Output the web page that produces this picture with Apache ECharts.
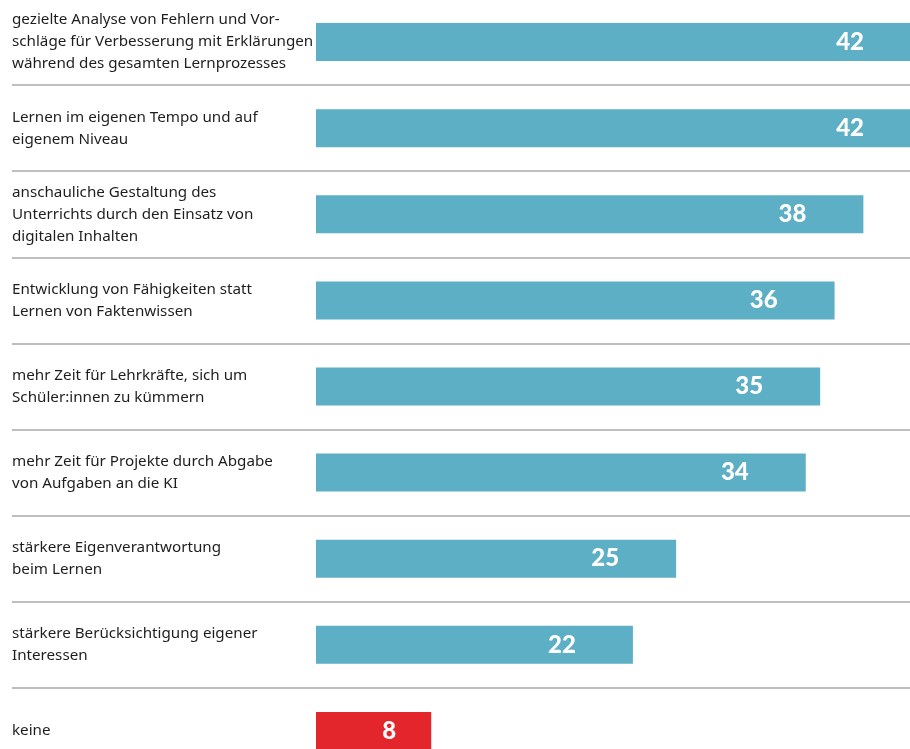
<!DOCTYPE html>
<html>
<head>
<meta charset="utf-8">
<script src="https://cdn.jsdelivr.net/npm/echarts@6/dist/echarts.min.js"></script>
<style>
html,body{margin:0;padding:0;background:#fff;}
#c{width:910px;height:749px;}
</style>
</head>
<body>
<div id="c"></div>
<script>
const categories = [
  "gezielte Analyse von Fehlern und Vor-\nschläge für Verbesserung mit Erklärungen\nwährend des gesamten Lernprozesses",
  "Lernen im eigenen Tempo und auf\neigenem Niveau",
  "anschauliche Gestaltung des\nUnterrichts durch den Einsatz von\ndigitalen Inhalten",
  "Entwicklung von Fähigkeiten statt\nLernen von Faktenwissen",
  "mehr Zeit für Lehrkräfte, sich um\nSchüler:innen zu kümmern",
  "mehr Zeit für Projekte durch Abgabe\nvon Aufgaben an die KI",
  "stärkere Eigenverantwortung\nbeim Lernen",
  "stärkere Berücksichtigung eigener\nInteressen",
  "keine"
];
const values = [42, 42, 38, 36, 35, 34, 25, 22, 8];

const BLUE = '#5cafc5';
const RED = '#e3262b';

const chart = echarts.init(document.getElementById('c'));
chart.setOption({
  animation: false,
  grid: [
    {left: 316, top: -1, right: -11, bottom: -25, containLabel: false, outerBoundsMode: 'none'},
    {left: 12, top: -1, right: 0, bottom: -25, containLabel: false, outerBoundsMode: 'none'}
  ],
  xAxis: [
    {type: 'value', gridIndex: 0, min: 0, max: 42, show: false},
    {type: 'value', gridIndex: 1, min: 0, max: 1, show: false}
  ],
  yAxis: [
    {
      type: 'category', gridIndex: 0, data: categories, inverse: true,
      axisLine: {show: false}, axisTick: {show: false}, splitLine: {show: false},
      axisLabel: {
        align: 'left', margin: 304, fontFamily: 'Noto Sans', fontSize: 15.2,
        color: '#1e1e1e', lineHeight: 22
      }
    },
    {
      type: 'category', gridIndex: 1, data: categories, inverse: true,
      axisLine: {show: false}, axisTick: {show: false}, axisLabel: {show: false},
      splitLine: {show: true, lineStyle: {color: '#aaaaaa', width: 1.5}}
    }
  ],
  series: [{
    type: 'bar',
    xAxisIndex: 0, yAxisIndex: 0,
    data: values.map((v, i) => (categories[i] === 'keine'
      ? {value: v, label: {distance: 35}}
      : v)),
    barWidth: 38,
    itemStyle: {color: p => (p.name === 'keine' ? RED : BLUE)},
    label: {
      show: true, position: 'insideRight', distance: 57,
      color: '#ffffff', fontFamily: 'Lato', fontWeight: 900, fontSize: 24
    }
  }]
});
</script>
</body>
</html>
